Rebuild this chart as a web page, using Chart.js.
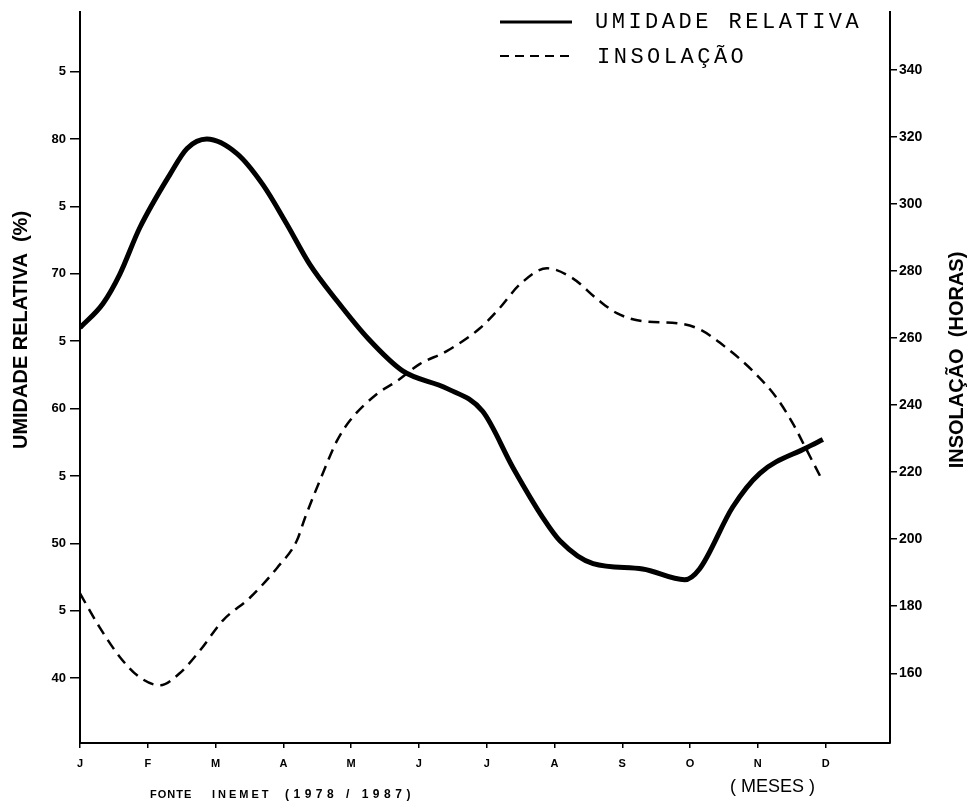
<!DOCTYPE html>
<html lang="pt">
<head>
<meta charset="utf-8">
<title>Umidade relativa e insolação</title>
<script src="https://cdn.jsdelivr.net/npm/chart.js@4.4.1/dist/chart.umd.min.js"></script>
<style>
  html, body { margin: 0; padding: 0; background: #fff; }
  #wrap { width: 972px; height: 807px; }
</style>
</head>
<body>
<div id="wrap"><canvas id="climaChart" width="972" height="807"></canvas></div>
<script>
// Meses (eixo X)
var meses = ['J', 'F', 'M', 'A', 'M', 'J', 'J', 'A', 'S', 'O', 'N', 'D'];

// Umidade relativa (%) : posicao em meses (0 = janeiro) e valor
var umidadePos = [0, 0.34, 0.59, 0.88, 1.33, 1.58, 1.87, 2.32, 2.70, 3.05, 3.39, 3.79, 4.25,
                  4.76, 5.41, 5.94, 6.39, 6.83, 7.08, 7.57, 8.30, 8.92, 9.14, 9.63, 10.03, 10.72, 10.96];
var umidadeVal = [66.0, 67.8, 70.0, 73.4, 77.4, 79.3, 80.0, 78.9, 76.6, 73.7, 70.7, 68.0, 65.2,
                  62.8, 61.5, 59.8, 55.6, 51.9, 50.2, 48.5, 48.1, 47.3, 48.1, 52.7, 55.2, 57.1, 57.7];

// Insolacao (horas)
var insolacaoPos = [0, 0.29, 0.59, 0.88, 1.18, 1.47, 1.77, 2.11, 2.51, 2.91, 3.20, 3.32, 3.58, 3.79,
                    3.98, 4.38, 4.68, 5.01, 5.41, 5.90, 6.19, 6.49, 6.89, 7.27, 7.63, 7.92, 8.30,
                    8.81, 9.14, 9.54, 9.93, 10.28, 10.52, 10.69, 10.94];
var insolacaoVal = [183.8, 173.7, 164.8, 158.8, 156.4, 160.0, 166.8, 175.8, 182.6, 191.5, 199.6, 206.4, 219.5, 229.3,
                    235.3, 243.3, 247.2, 252.2, 256.1, 262.9, 268.9, 276.0, 280.8, 277.8, 271.6, 267.4, 265.0,
                    264.4, 262.6, 257.0, 250.1, 242.1, 234.4, 227.8, 218.0];

// Marcas dos eixos
var ticksUmidade = [40, 45, 50, 55, 60, 65, 70, 75, 80, 85];
var rotulosUmidade = ['40', '5', '50', '5', '60', '5', '70', '5', '80', '5'];
var ticksInsolacao = [160, 180, 200, 220, 240, 260, 280, 300, 320, 340];

function pontos(pos, val) {
    return pos.map(function (p, i) { return { x: p, y: val[i] }; });
}

function escreve(ctx, str, x, y, font, spacing, align, angle) {
    ctx.save();
    ctx.font = font;
    ctx.letterSpacing = (spacing || 0) + 'px';
    ctx.textAlign = align || 'left';
    ctx.textBaseline = 'middle';
    ctx.fillStyle = '#000';
    ctx.translate(x, y);
    if (angle) ctx.rotate(angle);
    ctx.fillText(str, 0, 0);
    ctx.restore();
}

// Titulos, legenda e fonte
var decoracao = {
    id: 'decoracao',
    afterDraw: function (chart) {
        var ctx = chart.ctx;
        // titulos dos eixos
        escreve(ctx, 'UMIDADE RELATIVA  (%)', 21, 330, 'bold 20px "Liberation Sans"', 0, 'center', -Math.PI / 2);
        escreve(ctx, 'INSOLAÇÃO  (HORAS)', 957, 360, 'bold 20px "Liberation Sans"', 0, 'center', -Math.PI / 2);

        // legenda
        ctx.save();
        ctx.strokeStyle = '#000';
        ctx.lineWidth = 3;
        ctx.beginPath(); ctx.moveTo(500, 22); ctx.lineTo(572, 22); ctx.stroke();
        ctx.lineWidth = 2;
        ctx.setLineDash([9, 6]);
        ctx.beginPath(); ctx.moveTo(500, 56); ctx.lineTo(572, 56); ctx.stroke();
        ctx.restore();
        escreve(ctx, 'UMIDADE RELATIVA', 595, 22, '22px "Liberation Mono"', 3.5);
        escreve(ctx, 'INSOLAÇÃO', 597, 57, '22px "Liberation Mono"', 3.5);

        // fonte e rotulo do eixo X
        escreve(ctx, 'FONTE', 150, 795, 'bold 11px "Liberation Sans"', 1);
        escreve(ctx, 'INEMET', 212, 795, 'bold 11px "Liberation Sans"', 3);
        escreve(ctx, '(1978 / 1987)', 285, 795, 'bold 12px "Liberation Sans"', 4.5);
        escreve(ctx, '( MESES )', 730, 787, '18px "Liberation Sans"', 0);
    }
};

var ctx = document.getElementById('climaChart');
var climaChart = new Chart(ctx, {
    type: 'line',
    data: {
        datasets: [{
            label: 'UMIDADE RELATIVA',
            data: pontos(umidadePos, umidadeVal),
            yAxisID: 'y',
            borderColor: '#000',
            borderWidth: 5,
            pointRadius: 0,
            cubicInterpolationMode: 'monotone',
            fill: false
        }, {
            label: 'INSOLAÇÃO',
            data: pontos(insolacaoPos, insolacaoVal),
            yAxisID: 'y1',
            borderColor: '#000',
            borderWidth: 2.5,
            borderDash: [11, 7],
            pointRadius: 0,
            cubicInterpolationMode: 'monotone',
            fill: false
        }]
    },
    options: {
        responsive: false,
        animation: false,
        layout: { padding: { top: 10, left: 0, right: 0, bottom: 0 } },
        plugins: {
            legend: { display: false },
            tooltip: { enabled: false }
        },
        scales: {
            x: {
                type: 'linear',
                min: 0,
                max: 11.95,
                afterBuildTicks: function (s) {
                    s.ticks = meses.map(function (m, i) { return { value: i }; });
                },
                afterFit: function (s) { s.height = 64; },
                ticks: {
                    color: '#000',
                    padding: 9,
                    maxRotation: 0,
                    autoSkip: false,
                    font: { family: 'Liberation Sans', size: 11, weight: 'bold' },
                    callback: function (v) { return meses[v]; }
                },
                grid: { drawOnChartArea: false, color: '#000', lineWidth: 1.5, tickLength: 5 },
                border: { color: '#000', width: 2 }
            },
            y: {
                position: 'left',
                min: 35.19,
                max: 89.44,
                afterBuildTicks: function (s) {
                    s.ticks = ticksUmidade.map(function (v) { return { value: v }; });
                },
                afterFit: function (s) { s.width = 80; },
                ticks: {
                    color: '#000',
                    padding: 4,
                    font: { family: 'Liberation Sans', size: 13, weight: 'bold' },
                    callback: function (v) { return rotulosUmidade[ticksUmidade.indexOf(v)]; }
                },
                grid: { drawOnChartArea: false, color: '#000', lineWidth: 1.5, tickLength: 10 },
                border: { color: '#000', width: 2 }
            },
            y1: {
                position: 'right',
                min: 139.2,
                max: 357.3,
                afterBuildTicks: function (s) {
                    s.ticks = ticksInsolacao.map(function (v) { return { value: v }; });
                },
                afterFit: function (s) { s.width = 82; },
                ticks: {
                    color: '#000',
                    padding: 2,
                    font: { family: 'Liberation Sans', size: 14, weight: 'bold' }
                },
                grid: { drawOnChartArea: false, color: '#000', lineWidth: 1.5, tickLength: 7 },
                border: { color: '#000', width: 2 }
            }
        }
    },
    plugins: [decoracao]
});
</script>
</body>
</html>
